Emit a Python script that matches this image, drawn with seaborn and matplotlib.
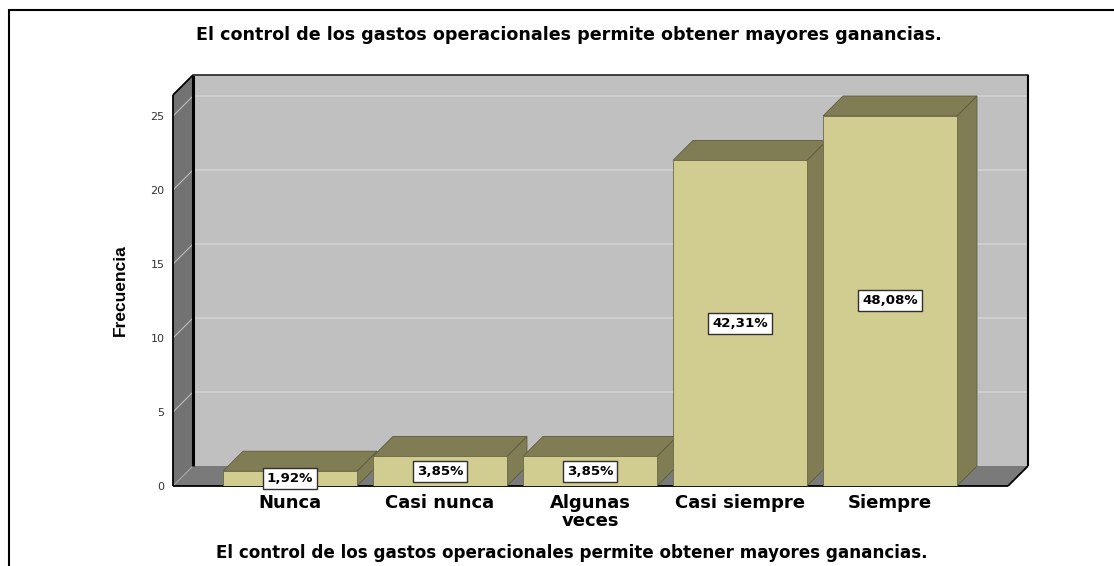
import numpy as np
import matplotlib.pyplot as plt
import seaborn as sns
from matplotlib.patches import Polygon, Rectangle

sns.set_theme(style="white")
plt.rcParams['font.family'] = ['DejaVu Sans']
plt.rcParams['text.color'] = 'black'

categorias = ['Nunca', 'Casi nunca', 'Algunas\nveces', 'Casi siempre', 'Siempre']
frecuencias = [1, 2, 2, 22, 25]
porcentajes = ['1,92%', '3,85%', '3,85%', '42,31%', '48,08%']
titulo = 'El control de los gastos operacionales permite obtener mayores ganancias.'

# colores estilo SPSS
c_frente = '#d1cc8f'
c_lado = '#807d55'
c_pared = '#c0c0c0'
c_pared_izq = '#727272'
c_piso = '#7a7a7a'
c_grid = '#d2d2d2'

W, H = 1114, 566
fig = plt.figure(figsize=(W / 100, H / 100), dpi=100)
ax = fig.add_axes([173 / W, 1 - 486 / H, 855 / W, 411 / H])

x0, x1 = -0.78, 4.92
y1 = 27.77
dx, dy = 20 / 150, 20 / 14.8
ancho = 0.893

sns.barplot(x=categorias, y=frecuencias, order=categorias, color=c_frente,
            saturation=1, width=ancho, edgecolor='#6b6848', linewidth=0.6,
            ax=ax, zorder=3)
ax.set_xlim(x0, x1)
ax.set_ylim(0, y1)

# paredes y piso
ax.add_patch(Polygon([(x0 + dx, dy), (x1, dy), (x1, y1), (x0 + dx, y1)],
                     closed=True, fc=c_pared, ec='none', zorder=0))
ax.add_patch(Polygon([(x0, 0), (x0 + dx, dy), (x0 + dx, y1), (x0, y1 - dy)],
                     closed=True, fc=c_pared_izq, ec='none', zorder=0))
ax.add_patch(Polygon([(x0, 0), (x0 + dx, dy), (x1, dy), (x1 - dx, 0)],
                     closed=True, fc=c_piso, ec='none', zorder=0))
ax.plot([x0, x0 + dx], [0, dy], color='#a8a8a8', lw=0.8, zorder=0.5)
for v in range(5, 26, 5):
    ax.plot([x0 + dx, x1], [v + dy, v + dy], color=c_grid, lw=1.2, zorder=0.5)
    ax.plot([x0, x0 + dx], [v, v + dy], color='#bdbdbd', lw=0.8, zorder=0.5)

# bordes negros
k = dict(color='black', clip_on=False, solid_capstyle='butt')
ax.plot([x0 + dx, x0 + dx], [dy, y1], lw=2.2, zorder=1, **k)
ax.plot([x0, x0], [0, y1 - dy], lw=1.3, zorder=1, **k)
ax.plot([x0, x0 + dx], [y1 - dy, y1], lw=1.3, zorder=1, **k)
ax.plot([x0 + dx, x1], [y1, y1], lw=1.3, zorder=1, color='#303030', clip_on=False)
ax.plot([x1, x1], [dy, y1], lw=1.5, zorder=1, **k)
ax.plot([x0, x1 - dx], [0, 0], lw=1.3, zorder=1, **k)
ax.plot([x1 - dx, x1], [0, dy], lw=1.3, zorder=1, **k)

# caras laterales y superiores de las barras
for i, h in enumerate(frecuencias):
    l, r = i - ancho / 2, i + ancho / 2
    ax.add_patch(Polygon([(r, 0), (r + dx, dy), (r + dx, h + dy), (r, h)],
                         closed=True, fc=c_lado, ec='#5e5c3e', lw=0.6, zorder=2))
    ax.add_patch(Polygon([(l, h), (l + dx, h + dy), (r + dx, h + dy), (r, h)],
                         closed=True, fc=c_lado, ec='#5e5c3e', lw=0.6, zorder=2))
    ax.text(i, h / 2, porcentajes[i], ha='center', va='center', fontsize=9.6,
            fontweight='bold', color='black', zorder=6,
            bbox=dict(boxstyle='square,pad=0.3', fc='white', ec='#303030', lw=1))

for s in ax.spines.values():
    s.set_visible(False)
ax.set_yticks(range(0, 26, 5))
ax.set_yticklabels([str(v) for v in range(0, 26, 5)], fontsize=8, color='#333333')
ax.set_xticks(range(len(categorias)))
ax.set_xticklabels(categorias, fontsize=13, fontweight='bold', color='black',
                   linespacing=0.95)
ax.tick_params(axis='y', length=0, pad=6)
ax.tick_params(axis='x', length=0, pad=6)
ax.set_xlabel('')
ax.set_ylabel('')

fig.text(120 / W, 1 - 290 / H, 'Frecuencia', rotation=90, ha='center', va='center',
         fontsize=12.5, fontweight='bold', color='black',
         family=['Liberation Sans Narrow', 'Liberation Sans'])
fig.text(569 / W, 1 - 35 / H, titulo, ha='center', va='center', fontsize=12.6,
         fontweight='bold', color='black')
fig.text(572 / W, 1 - 553 / H, titulo, ha='center', va='center', fontsize=12.1,
         fontweight='bold', color='black')

fig.add_artist(Rectangle((9 / W, -0.05), 1.1, 1 - 10 / H + 0.05,
                         transform=fig.transFigure, fill=False, lw=1.5, ec='black'))

fig.savefig('out.png', dpi=100, facecolor='white')
